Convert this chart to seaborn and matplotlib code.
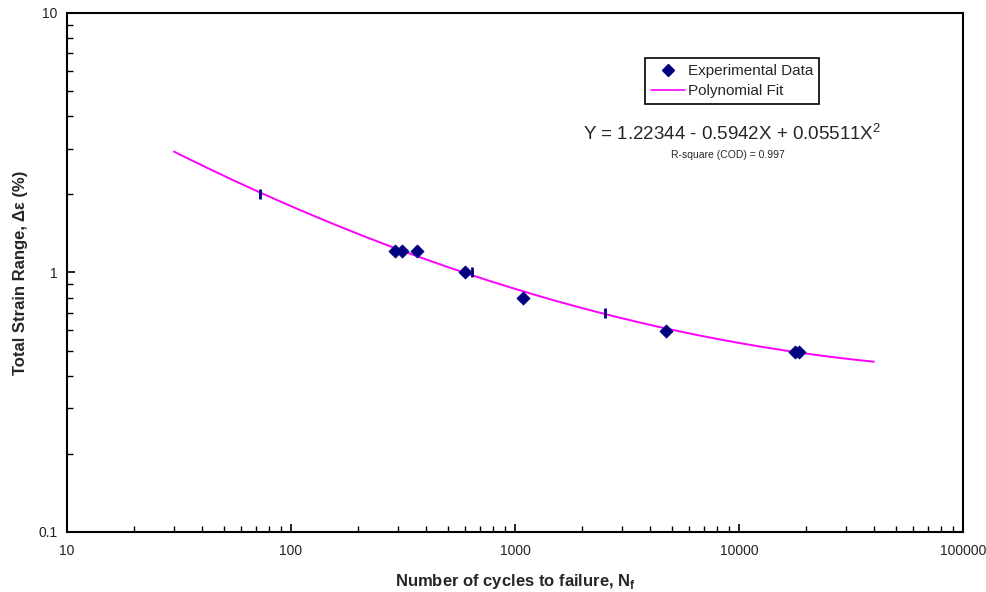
import numpy as np
import pandas as pd
import matplotlib
matplotlib.use("Agg")
import matplotlib.pyplot as plt
import seaborn as sns
from matplotlib.lines import Line2D
from matplotlib.ticker import LogLocator, FixedLocator, FixedFormatter, NullFormatter

# ---- data ----
cycles = [291, 313, 365, 598, 1086, 4721, 17783, 18530]
strain = [1.21, 1.21, 1.21, 1.0, 0.80, 0.595, 0.495, 0.495]

bar_cycles = [73, 643, 2523]
bar_strain = [2.0, 1.0, 0.70]

# polynomial fit from the chart: log10(strain) = c0 + c1*X + c2*X^2, X = log10(N)
fit_coeffs = [1.22344, -0.5942, 0.05511]
fit_range = [30, 40000]

x_ticks = [10, 100, 1000, 10000, 100000]
x_labels = ["10", "100", "1000", "10000", "100000"]
y_ticks = [0.1, 1, 10]
y_labels = ["0.1", "1", "10"]

sns.set_style("white")
plt.rcParams['font.family'] = ['Liberation Sans', 'DejaVu Sans']

fig = plt.figure(figsize=(9.87, 5.92), dpi=100)
ax = fig.add_axes([0.0679, 0.1014, 0.9078, 0.8767])

N = np.logspace(np.log10(fit_range[0]), np.log10(fit_range[1]), 300)
X = np.log10(N)
Y = fit_coeffs[0] + fit_coeffs[1] * X + fit_coeffs[2] * X ** 2
fit_df = pd.DataFrame({"N": N, "strain": 10 ** Y})
sns.lineplot(data=fit_df, x="N", y="strain", ax=ax, color="#FF00FF", lw=1.4, zorder=2)

exp_df = pd.DataFrame({"N": cycles, "strain": strain})
sns.scatterplot(data=exp_df, x="N", y="strain", ax=ax, marker="D", s=45,
                color="#000080", edgecolor="#000080", linewidth=0.5, zorder=3)
bar_df = pd.DataFrame({"N": bar_cycles, "strain": bar_strain})
sns.scatterplot(data=bar_df, x="N", y="strain", ax=ax, marker="|", s=60,
                color="#000080", linewidth=2, zorder=3)

ax.set_xscale("log")
ax.set_yscale("log")
ax.set_xlim(10, 100000)
ax.set_ylim(0.1, 10)

ax.xaxis.set_major_locator(FixedLocator(x_ticks))
ax.xaxis.set_major_formatter(FixedFormatter(x_labels))
ax.yaxis.set_major_locator(FixedLocator(y_ticks))
ax.yaxis.set_major_formatter(FixedFormatter(y_labels))
ax.xaxis.set_minor_locator(LogLocator(base=10, subs=np.arange(2, 10), numticks=20))
ax.yaxis.set_minor_locator(LogLocator(base=10, subs=np.arange(2, 10), numticks=20))
ax.xaxis.set_minor_formatter(NullFormatter())
ax.yaxis.set_minor_formatter(NullFormatter())

ax.tick_params(which="both", direction="in", bottom=True, left=True, top=False, right=False,
               color="black", labelsize=10, labelcolor="#222222")
ax.tick_params(which="major", length=6, width=1.2, pad=9)
ax.tick_params(which="minor", length=4, width=1.0)
ax.tick_params(axis="y", which="major", pad=7)

for sp in ax.spines.values():
    sp.set_visible(True)
    sp.set_color("black")
    sp.set_linewidth(1.5)

ax.set_xlabel("Number of cycles to failure, N$_{\\mathregular{f}}$", fontsize=12,
              fontweight="bold", labelpad=10)
ax.set_ylabel("Total Strain Range, Δε (%)", fontsize=12, fontweight="bold", labelpad=7)

handles = [
    Line2D([], [], marker="D", color="#000080", linestyle="none", markersize=6),
    Line2D([], [], color="#FF00FF", lw=1.2),
]
leg = ax.legend(handles, ["Experimental Data", "Polynomial Fit"], loc="upper left",
                bbox_to_anchor=(0.645, 0.913), fontsize=11, frameon=True, fancybox=False,
                edgecolor="black", framealpha=1, borderpad=0.4, handlelength=2.2,
                handletextpad=0.2, labelspacing=0.4, borderaxespad=0)
leg.get_frame().set_linewidth(1.2)

ax.text(0.742, 0.768, "Y = 1.22344 - 0.5942X + 0.05511X$^{\\mathregular{2}}$",
        transform=ax.transAxes, ha="center", va="center", fontsize=13.5)
ax.text(0.738, 0.726, "R-square (COD) = 0.997", transform=ax.transAxes,
        ha="center", va="center", fontsize=7.5)

fig.savefig("out.png", dpi=100)
